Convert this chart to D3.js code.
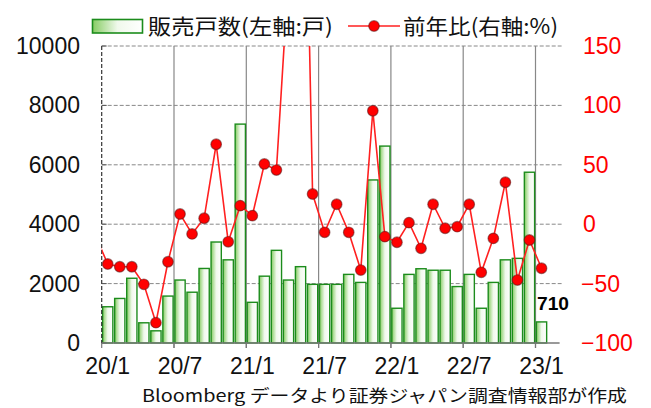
<!DOCTYPE html>
<html><head><meta charset="utf-8">
<script src="https://cdn.jsdelivr.net/npm/d3@7"></script>
<style>body{margin:0;background:#fff}svg{display:block}</style>
</head><body>
<svg id="c" width="651" height="408"></svg>
<script>
// months 20/1 .. 23/1
const months = ["20/1","20/2","20/3","20/4","20/5","20/6","20/7","20/8","20/9","20/10","20/11","20/12",
"21/1","21/2","21/3","21/4","21/5","21/6","21/7","21/8","21/9","21/10","21/11","21/12",
"22/1","22/2","22/3","22/4","22/5","22/6","22/7","22/8","22/9","22/10","22/11","22/12","23/1"];
// 販売戸数
const units = [1220,1500,2180,680,410,1580,2120,1710,2510,3400,2800,7370,
1370,2250,3120,2120,2570,1975,1975,1975,2310,2040,5490,6630,
1170,2310,2500,2450,2450,1900,2310,1170,2040,2800,2850,5750,710];
// 前年比 (%), first value is 19/12
const yoyPrev = -10;
const yoy = [-33.5,-35.8,-35.8,-50.6,-82.9,-31.6,8.6,-8.2,5,67.3,-14.8,15.6,
7.2,50.7,45.6,210,520,25.4,-6.8,16.8,-6.8,-38.6,95.5,-10.5,
-15.2,1.3,-20.3,16.8,-3.4,-2.1,16.8,-40.5,-11.9,35.3,-47,-13.3,-37.1];
const leftTicks = [0,2000,4000,6000,8000,10000];
const rightTicks = [-100,-50,0,50,100,150];
const xLabelMonths = ["20/1","20/7","21/1","21/7","22/1","22/7","23/1"];
const lastLabel = "710";

const svg = d3.select("#c");
const L = 101.7, R = 559.6, T = 46, B = 343;
const x = d3.scaleLinear().domain([0, 38]).range([L, R]);
const bw = x(1) - x(0);
const yL = d3.scaleLinear().domain([0, 10000]).range([B, T]);
const yR = d3.scaleLinear().domain([-100, 150]).range([B, T]);

const defs = svg.append("defs");
const g = defs.append("linearGradient").attr("id","gb").attr("x1","0").attr("x2","1").attr("y1","0").attr("y2","0");
g.append("stop").attr("offset","0").attr("stop-color","#86cc62");
g.append("stop").attr("offset","0.5").attr("stop-color","#f0f9ec");
g.append("stop").attr("offset","1").attr("stop-color","#ffffff");
defs.append("clipPath").attr("id","clipL").append("rect")
  .attr("x", L).attr("y", T).attr("width", R - L + 2).attr("height", B - T);

// horizontal dashed gridlines
svg.append("g").selectAll("line").data(leftTicks.filter(d => d > 0)).join("line")
  .attr("x1", L).attr("x2", R + 2).attr("y1", d => yL(d)).attr("y2", d => yL(d))
  .attr("stroke", "#888").attr("stroke-width", 1).attr("stroke-dasharray", "4,2");
// vertical solid gridlines every 6 months
const vIdx = xLabelMonths.map(m => months.indexOf(m)).filter(i => i > 0);
svg.append("g").selectAll("line").data(vIdx).join("line")
  .attr("x1", d => x(d)).attr("x2", d => x(d)).attr("y1", T).attr("y2", B + 5)
  .attr("stroke", "#888").attr("stroke-width", 1.2);

// bars
svg.append("g").selectAll("rect").data(units).join("rect")
  .attr("x", (d, i) => x(i) + 0.9).attr("width", bw - 1.8)
  .attr("y", d => yL(d)).attr("height", d => B - yL(d))
  .attr("fill", "url(#gb)").attr("stroke", "#1c8c1c").attr("stroke-width", 1.4);

// left axis line (dashed dark) and ticks
svg.append("line").attr("x1", L).attr("x2", L).attr("y1", T).attr("y2", B)
  .attr("stroke", "#333").attr("stroke-width", 1.2).attr("stroke-dasharray", "4,2");
svg.append("g").selectAll("line").data(leftTicks).join("line")
  .attr("x1", L).attr("x2", L + 5).attr("y1", d => yL(d)).attr("y2", d => yL(d))
  .attr("stroke", "#555");
// bottom axis
svg.append("line").attr("x1", L).attr("x2", R).attr("y1", B).attr("y2", B)
  .attr("stroke", "#777").attr("stroke-width", 1.4);
svg.append("g").selectAll("line").data(xLabelMonths.map(m => months.indexOf(m))).join("line")
  .attr("x1", d => x(d)).attr("x2", d => x(d)).attr("y1", B).attr("y2", B + 5)
  .attr("stroke", "#777").attr("stroke-width", 1.2);

// yoy line
const pts = [[-1, yoyPrev]].concat(yoy.map((v, i) => [i, v]));
const line = d3.line().x(d => x(d[0]) + bw / 2).y(d => yR(d[1]));
svg.append("g").attr("clip-path", "url(#clipL)")
  .append("path").datum(pts).attr("d", line).attr("fill", "none")
  .attr("stroke", "#ff2020").attr("stroke-width", 1.6);
svg.append("g").attr("clip-path", "url(#clipL)").selectAll("circle")
  .data(yoy.map((v, i) => [i, v])).join("circle")
  .attr("cx", d => x(d[0]) + bw / 2).attr("cy", d => yR(d[1])).attr("r", 5.3)
  .attr("fill", "#ff0000").attr("stroke", "rgba(90,20,20,0.55)").attr("stroke-width", 1.2);

// left tick labels
svg.append("g").selectAll("text").data(leftTicks).join("text")
  .attr("x", 80).attr("y", d => yL(d)).attr("dy", "0.35em").attr("text-anchor", "end")
  .attr("font-family", "Liberation Sans, Arial, sans-serif").attr("font-size", 23)
  .attr("fill", "#111").text(d => d);
// right tick labels
svg.append("g").selectAll("text").data(rightTicks).join("text")
  .attr("x", d => d < 0 ? 581 : 583).attr("y", d => yR(d)).attr("dy", "0.35em").attr("text-anchor", "start")
  .attr("font-family", "Liberation Sans, Arial, sans-serif").attr("font-size", 23)
  .attr("fill", "#ff0000").text(d => d < 0 ? "\u2212" + Math.abs(d) : d);
// x labels
svg.append("g").selectAll("text").data(xLabelMonths).join("text")
  .attr("x", d => x(months.indexOf(d)) + bw / 2).attr("y", 366).attr("dy", "0.35em")
  .attr("text-anchor", "middle")
  .attr("font-family", "Liberation Sans, Arial, sans-serif").attr("font-size", 23)
  .attr("fill", "#111").text(d => d);

// last value label
svg.append("text").attr("x", x(months.length - 1) + 1.5).attr("y", 303.5).attr("dy", "0.35em")
  .attr("font-family", "Liberation Sans, Arial, sans-serif").attr("font-size", 18).attr("font-weight", "bold")
  .attr("textLength", 32).attr("lengthAdjust", "spacingAndGlyphs")
  .attr("fill", "#000").text(lastLabel);

// legend
svg.append("rect").attr("x", 92.5).attr("y", 19.5).attr("width", 50).attr("height", 13.5)
  .attr("fill", "url(#gb)").attr("stroke", "#1c8c1c").attr("stroke-width", 1.6);
svg.append("text").attr("x", 148).attr("y", 26).attr("dy", "0.36em")
  .attr("font-family", "Noto Sans CJK JP, sans-serif").attr("font-size", 21)
  .attr("textLength", 185).attr("lengthAdjust", "spacingAndGlyphs")
  .attr("fill", "#111").text("販売戸数(左軸:戸)");
svg.append("line").attr("x1", 348).attr("x2", 400).attr("y1", 26).attr("y2", 26)
  .attr("stroke", "#ff2020").attr("stroke-width", 1.6);
svg.append("circle").attr("cx", 374).attr("cy", 26).attr("r", 5.3)
  .attr("fill", "#ff0000").attr("stroke", "rgba(90,20,20,0.55)").attr("stroke-width", 1.2);
svg.append("text").attr("x", 403).attr("y", 26).attr("dy", "0.36em")
  .attr("font-family", "Noto Sans CJK JP, sans-serif").attr("font-size", 21)
  .attr("textLength", 155).attr("lengthAdjust", "spacingAndGlyphs")
  .attr("fill", "#111").text("前年比(右軸:%)");

// source
svg.append("text").attr("x", 142).attr("y", 396).attr("dy", "0.36em")
  .attr("font-family", "Noto Sans CJK JP, sans-serif").attr("font-size", 17)
  .attr("textLength", 485).attr("lengthAdjust", "spacingAndGlyphs")
  .attr("fill", "#111").text("Bloomberg データより証券ジャパン調査情報部が作成");
</script>
</body></html>
